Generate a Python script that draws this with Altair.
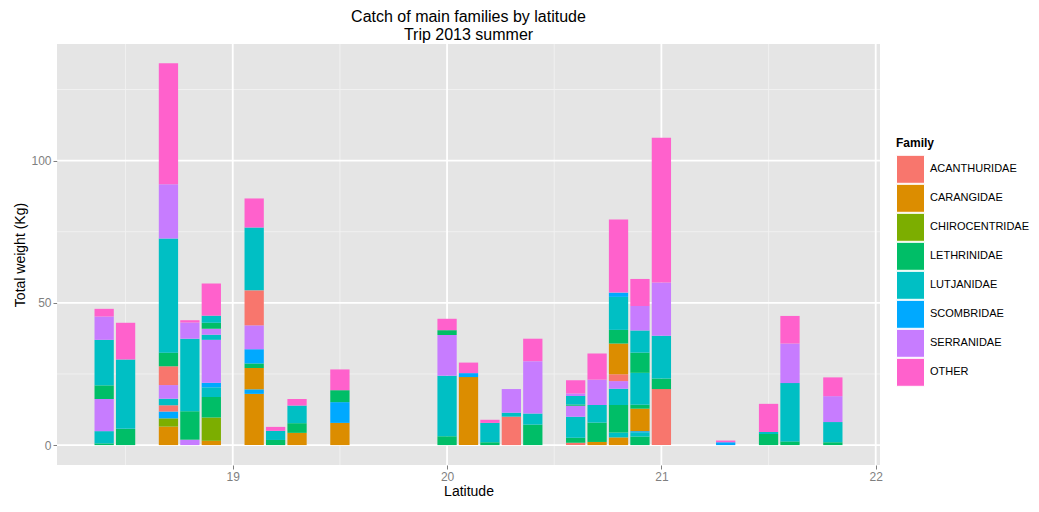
import altair as alt
import pandas as pd

# ---- data ----
latitudes = [18.4, 18.5, 18.7, 18.8, 18.9, 19.1, 19.2, 19.3, 19.5,
             20.0, 20.1, 20.2, 20.3, 20.4, 20.6, 20.7, 20.8, 20.9, 21.0,
             21.3, 21.5, 21.6, 21.8]

# stacked segments of each bar, bottom to top (family code, weight in kg)
bar_families = [
    ["LET", "LUT", "SER", "LET", "LUT", "SER", "OTH"],
    ["LET", "LUT", "OTH"],
    ["CAR", "CHI", "SCO", "ACA", "LUT", "SER", "ACA", "LET", "LUT", "SER", "OTH"],
    ["SER", "LET", "LUT", "SER", "OTH"],
    ["CAR", "CHI", "LET", "LUT", "SCO", "SER", "LUT", "SER", "LET", "LUT", "OTH"],
    ["CAR", "SCO", "CAR", "LET", "SCO", "SER", "ACA", "LUT", "OTH"],
    ["LET", "LUT", "OTH"],
    ["CAR", "LET", "LUT", "OTH"],
    ["CAR", "SCO", "LET", "OTH"],
    ["LET", "LUT", "SER", "LET", "OTH"],
    ["CAR", "SCO", "OTH"],
    ["LET", "LUT", "OTH"],
    ["ACA", "LUT", "SER"],
    ["LET", "LUT", "SER", "OTH"],
    ["ACA", "LET", "LUT", "SER", "LET", "LUT", "SER", "OTH"],
    ["CAR", "LET", "LUT", "SER", "OTH"],
    ["CAR", "LUT", "LET", "LUT", "SER", "ACA", "CAR", "LET", "LUT", "SCO", "OTH"],
    ["LET", "LUT", "SCO", "CAR", "LET", "LUT", "LET", "LUT", "SER", "OTH"],
    ["ACA", "LET", "LUT", "SER", "OTH"],
    ["SCO", "OTH"],
    ["LET", "LUT", "OTH"],
    ["LET", "LUT", "SER", "OTH"],
    ["LET", "LUT", "SER", "OTH"],
]
bar_weights = [
    [0.6, 4.3, 11.3, 4.8, 16.0, 8.2, 2.7],
    [5.7, 24.4, 12.9],
    [6.5, 2.9, 2.4, 2.2, 2.3, 4.8, 6.6, 4.8, 40.1, 19.1, 42.5],
    [1.9, 10.0, 25.5, 5.7, 0.8],
    [1.5, 8.2, 7.2, 3.4, 1.6, 15.1, 1.8, 2.1, 2.1, 2.5, 11.3],
    [18.0, 1.6, 7.5, 1.6, 5.0, 8.4, 12.3, 22.1, 10.2],
    [1.8, 3.2, 1.4],
    [4.3, 3.4, 6.2, 2.3],
    [7.8, 7.3, 4.2, 7.3],
    [3.1, 21.3, 14.3, 1.7, 4.0],
    [23.9, 1.4, 3.7],
    [1.0, 6.8, 1.1],
    [10.0, 1.4, 8.3],
    [7.2, 3.9, 18.4, 7.9],
    [0.8, 1.8, 7.4, 3.8, 0.5, 3.0, 0.8, 4.7],
    [1.1, 6.8, 6.2, 8.9, 9.2],
    [2.7, 1.7, 9.7, 5.7, 2.7, 2.4, 10.8, 4.8, 11.6, 1.5, 25.7],
    [3.0, 1.5, 0.4, 7.9, 1.4, 11.2, 7.1, 7.8, 8.6, 9.5],
    [19.7, 3.7, 15.0, 18.8, 50.8],
    [1.0, 0.6],
    [3.9, 0.7, 9.9],
    [1.3, 20.5, 13.9, 9.7],
    [1.0, 7.1, 9.1, 6.6],
]

family_codes = ["ACA", "CAR", "CHI", "LET", "LUT", "SCO", "SER", "OTH"]
family_names = ["ACANTHURIDAE", "CARANGIDAE", "CHIROCENTRIDAE", "LETHRINIDAE",
                "LUTJANIDAE", "SCOMBRIDAE", "SERRANIDAE", "OTHER"]
family_colors = ["#F8766D", "#DC8D00", "#7CAE00", "#00BE67",
                 "#00BFC4", "#00A9FF", "#C77CFF", "#FF61CC"]

x_major_ticks = [19, 20, 21, 22]
x_minor_ticks = [18.5, 19.5, 20.5, 21.5]
y_major_ticks = [0, 50, 100]
y_minor_ticks = [25, 75, 125]

# ---- build table ----
code_to_name = dict(zip(family_codes, family_names))
rows = []
for lat, fams, ws in zip(latitudes, bar_families, bar_weights):
    for i, (f, w) in enumerate(zip(fams, ws)):
        rows.append({"lat": lat, "Family": code_to_name[f], "w": w, "idx": i})
df = pd.DataFrame(rows)

FONT = "Liberation Sans"
bar_width = 0.09
xscale = alt.Scale(domain=[18.18, 22.02], nice=False, zero=False)
yscale = alt.Scale(domain=[-7, 141], nice=False, zero=False)
xaxis = alt.Axis(values=x_major_ticks, format="d", title="Latitude",
                 labelPadding=2, titlePadding=2)
yaxis = alt.Axis(values=y_major_ticks, format="d", title="Total weight (Kg)",
                 labelPadding=2, titlePadding=3)

minor_v = alt.Chart(pd.DataFrame({"v": x_minor_ticks})).mark_rule(
    color="#F2F2F2", strokeWidth=0.9).encode(x=alt.X("v:Q", scale=xscale, axis=xaxis))
minor_h = alt.Chart(pd.DataFrame({"v": y_minor_ticks})).mark_rule(
    color="#F2F2F2", strokeWidth=0.9).encode(y=alt.Y("v:Q", scale=yscale, axis=yaxis))
major_v = alt.Chart(pd.DataFrame({"v": x_major_ticks})).mark_rule(
    color="white", strokeWidth=1.8).encode(x=alt.X("v:Q", scale=xscale, axis=xaxis))
major_h = alt.Chart(pd.DataFrame({"v": y_major_ticks})).mark_rule(
    color="white", strokeWidth=1.8).encode(y=alt.Y("v:Q", scale=yscale, axis=yaxis))

bars = alt.Chart(df).transform_stack(
    stack="w", groupby=["lat"], as_=["y0", "y1"],
    sort=[alt.SortField("idx", order="ascending")]
).transform_calculate(
    xl=f"datum.lat - {bar_width / 2}", xr=f"datum.lat + {bar_width / 2}"
).mark_rect().encode(
    x=alt.X("xl:Q", scale=xscale, axis=xaxis),
    x2="xr:Q",
    y=alt.Y("y0:Q", scale=yscale, axis=yaxis),
    y2="y1:Q",
    color=alt.Color("Family:N",
                    scale=alt.Scale(domain=family_names, range=family_colors),
                    legend=alt.Legend(title="Family", orient="none", legendX=839, legendY=94,
                                      symbolType="square", symbolSize=784,
                                      symbolStrokeColor="white", symbolStrokeWidth=1,
                                      symbolOpacity=1, rowPadding=0, clipHeight=28.6,
                                      labelFont=FONT, labelFontSize=11, labelColor="black",
                                      labelOffset=5, titleFont=FONT, titleFontSize=12,
                                      titleFontWeight="bold", titlePadding=5)),
)

chart = alt.layer(minor_v, minor_h, major_v, major_h, bars).properties(
    width=823, height=421,
    autosize=alt.AutoSizeParams(type="none"),
    padding={"left": 49, "top": 36, "right": 151, "bottom": 35},
    title=alt.Title(["Catch of main families by latitude", "Trip 2013 summer"],
                    font=FONT, fontSize=16, fontWeight="normal", anchor="middle",
                    offset=0, lineHeight=18, color="black"),
).configure_view(fill="#E5E5E5", strokeWidth=0).configure_axis(
    grid=False, domain=False, tickSize=4, tickColor="#7F7F7F",
    labelColor="#7F7F7F", labelFontSize=12, labelFont=FONT,
    titleFont=FONT, titleFontSize=14, titleFontWeight="normal", titleColor="black"
)

chart.save("out.html", embed_options={"renderer": "svg", "actions": False})
